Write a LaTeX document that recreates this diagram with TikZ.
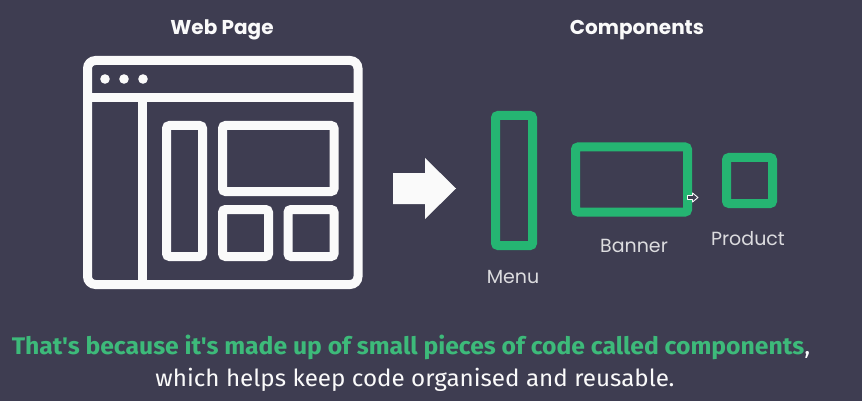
\documentclass[tikz,border=0pt]{standalone}
\usepackage{fontspec}
\setmainfont{Poppins}
\newfontfamily\capfont[FakeStretch=1.03]{Fira Sans}
\definecolor{slate}{HTML}{3E3D51}
\definecolor{leaf}{HTML}{25B572}
\definecolor{leaftext}{HTML}{3DBA7A}
\definecolor{paper}{HTML}{FAFAFA}
\definecolor{soft}{HTML}{DCDCDF}
\tikzset{
  icon/.style={draw=paper, line width=9pt, rounded corners=3pt},
  compbox/.style={draw=leaf, line width=9pt, rounded corners=2.5pt, inner sep=0pt, outer sep=0pt},
  heading/.style={font=\bfseries\fontsize{20}{22}\selectfont, text=paper, anchor=base, inner sep=0pt},
  tag/.style={font=\fontsize{19}{22}\selectfont, text=soft, anchor=base, inner sep=0pt},
  caption/.style={anchor=base, inner sep=0pt},
}
\begin{document}
\begin{tikzpicture}[x=1pt,y=-1pt]
  \fill[slate] (0,0) rectangle (862,401);
  \useasboundingbox (0,0) rectangle (862,401);

  % headings
  \node[heading] (webtitle) at (222,35) {Web Page};
  \node[heading] (comptitle) at (637,35) {Components};

  % browser window icon
  \draw[icon, rounded corners=8pt] (87.5,60.5) rectangle (358,284.5);
  \draw[draw=paper, line width=9pt] (87.5,97.5) -- (358,97.5);
  \draw[draw=paper, line width=9pt] (142.5,97.5) -- (142.5,284.5);
  \foreach \x in {105,124,143} \fill[paper] (\x,79) circle (4.8pt);
  \draw[icon] (166.5,125.5) rectangle (202.5,256.5);
  \draw[icon] (222.5,125.5) rectangle (334,191.5);
  \draw[icon] (222.5,209.5) rectangle (268.5,256.5);
  \draw[icon] (288,209.5) rectangle (334,256.5);

  % big arrow
  \fill[paper] (393,173) -- (425,173) -- (425,158) -- (456,188.5)
    -- (425,219) -- (425,204) -- (393,204) -- cycle;

  % components
  \node[compbox, minimum width=37pt, minimum height=130pt] (menu) at (514,180.5) {};
  \node[compbox, minimum width=112pt, minimum height=65pt] (banner) at (631.5,179.5) {};
  \node[compbox, minimum width=46pt, minimum height=46pt] (product) at (749.5,180.5) {};

  \node[tag] (menulabel) at (513,283) {Menu};
  \node[tag] (bannerlabel) at (634,252) {Banner};
  \node[tag] (productlabel) at (748,245) {Product};

  % pointer cursor
  \draw[paper, line width=0.9pt, fill=slate, line join=round]
    (687.5,195.5) -- (692.5,195.5) -- (692.5,193) -- (698,197.5)
    -- (692.5,202) -- (692.5,199.5) -- (687.5,199.5) -- cycle;

  % caption
  \node[caption, text=leaftext, font=\capfont\bfseries\fontsize{24}{28}\selectfont] (line1) at (411,354)
    {That's because it's made up of small pieces of code called components\textcolor{paper}{\mdseries,}};
  \node[caption, text=paper, font=\capfont\fontsize{23.5}{28}\selectfont] (line2) at (415,386.5)
    {which helps keep code organised and reusable.};
\end{tikzpicture}
\end{document}
